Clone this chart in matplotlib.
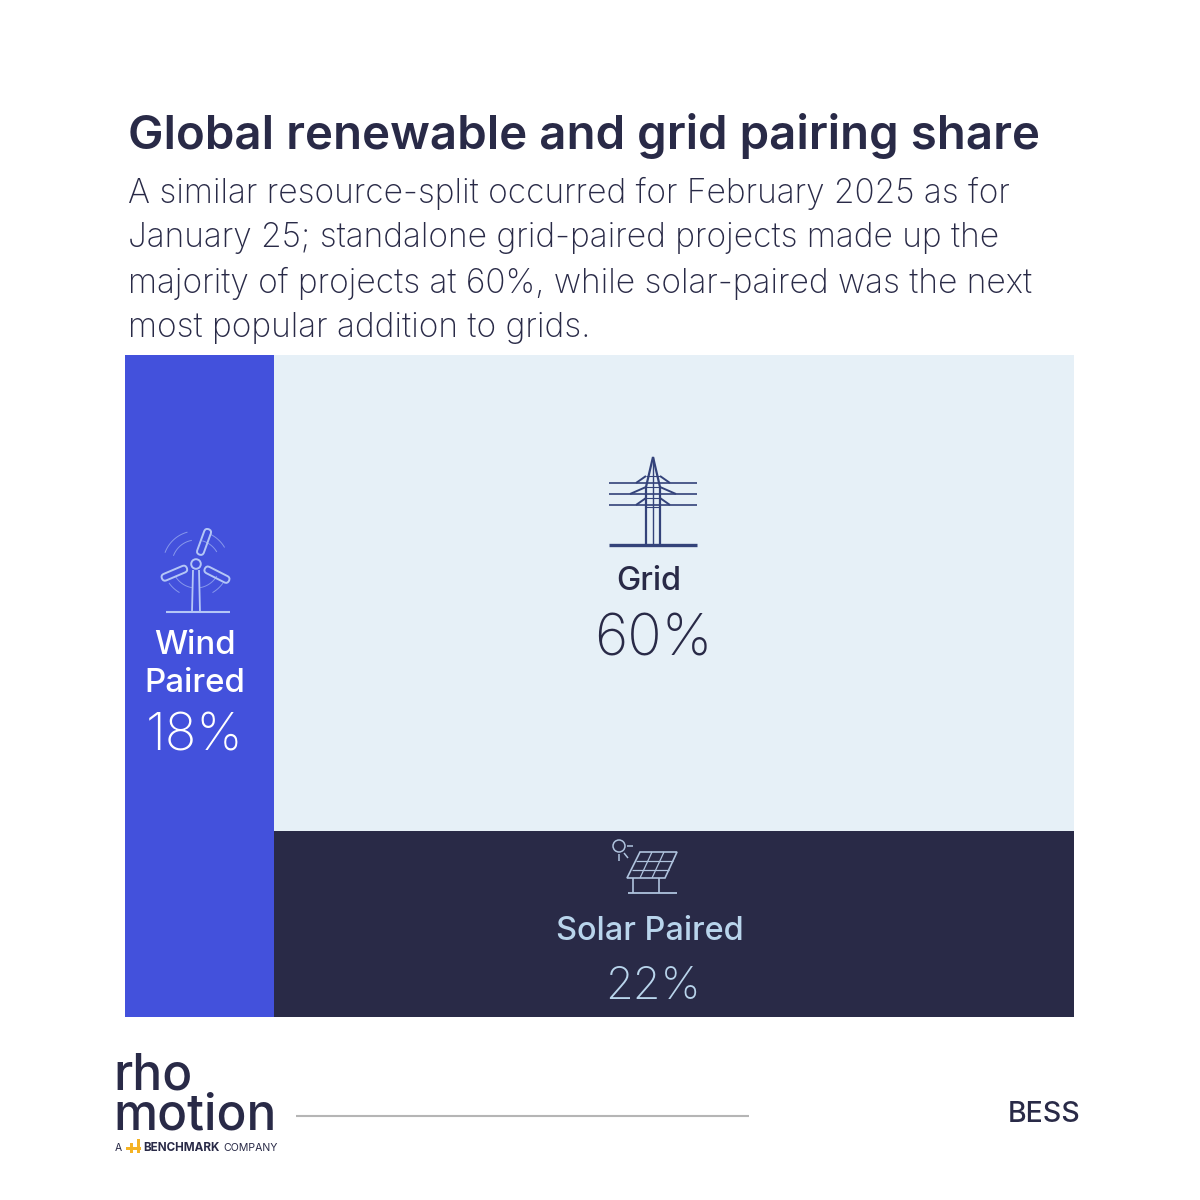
import numpy as np
import matplotlib
matplotlib.use("Agg")
import matplotlib.pyplot as plt
from matplotlib.patches import Rectangle, Circle, FancyBboxPatch, Polygon
from matplotlib.transforms import Affine2D

plt.rcParams['font.family'] = ['Inter', 'DejaVu Sans']

# text
title = "Global renewable and grid pairing share"
subtitle = [
    "A similar resource-split occurred for February 2025 as for",
    "January 25; standalone grid-paired projects made up the",
    "majority of projects at 60%, while solar-paired was the next",
    "most popular addition to grids.",
]

# data: labelled shares, and the shares as the blocks are really drawn
labels = ["Wind\nPaired", "Grid", "Solar Paired"]
shares = [18, 60, 22]
drawn_shares = [15.7, 60.6, 23.7]

# colours
navy = "#292A47"
blue = "#4351DC"
pale = "#E6F0F7"
light_blue = "#B9D5EC"
icon_blue = "#B4C6F6"
icon_navy = "#34437A"
orange = "#F5B324"

fig = plt.figure(figsize=(12, 12), dpi=100, facecolor="white")

# chart area, axes run 0-100 both ways
ax = fig.add_axes([125 / 1200, 1 - 1017 / 1200, 949 / 1200, 662 / 1200])
ax.set_xlim(0, 100)
ax.set_ylim(0, 100)
ax.axis("off")

wind_w = drawn_shares[0]
solar_h = drawn_shares[2] / (drawn_shares[1] + drawn_shares[2]) * 100
ax.add_patch(Rectangle((0, 0), wind_w, 100, color=blue, lw=0))
ax.add_patch(Rectangle((wind_w, solar_h), 100 - wind_w, 100 - solar_h, color=pale, lw=0))
ax.add_patch(Rectangle((wind_w, 0), 100 - wind_w, solar_h, color=navy, lw=0))

# overlay in pixels for text, icons and footer
ov = fig.add_axes([0, 0, 1, 1])
ov.set_xlim(0, 1200)
ov.set_ylim(1200, 0)
ov.axis("off")
ov.patch.set_alpha(0)

ov.text(128, 136, title, fontsize=34.15, fontweight="semibold", color=navy, va="center", ha="left")
for i, txt in enumerate(subtitle):
    ov.text(128, 193 + i * 45, txt, fontsize=24.1, fontweight="light", color=navy, va="center", ha="left")

# block labels
ov.text(195, 646, "Wind", fontsize=23.8, fontweight="medium", color="white", ha="center", va="center")
ov.text(195, 683, "Paired", fontsize=23.8, fontweight="medium", color="white", ha="center", va="center")
ov.text(195, 737, f"{shares[0]}%", fontsize=37.5, fontweight="light", color="white", ha="center", va="center")

ov.text(649, 581, labels[1], fontsize=23.4, fontweight="medium", color=navy, ha="center", va="center")
ov.text(653, 641, f"{shares[1]}%", fontsize=41, fontweight="light", color=navy, ha="center", va="center")

ov.text(650, 931, labels[2], fontsize=23.4, fontweight="medium", color=light_blue, ha="center", va="center")
ov.text(653, 987, f"{shares[2]}%", fontsize=32.5, fontweight="light", color=light_blue, ha="center", va="center")


def line(xs, ys, color, lw=1.3, alpha=1.0):
    ov.plot(xs, ys, color=color, lw=lw, alpha=alpha, solid_capstyle="butt", solid_joinstyle="miter")


# wind turbine icon
c = icon_blue
cx, cy = 196, 564
line([166, 230], [612, 612], c, 1.5)
line([193, 192, 200, 199], [570, 612, 612, 570], c, 1.3)
ov.add_patch(Circle((cx, cy), 4.8, fill=False, ec=c, lw=1.4))
for ang in [-70, 157, 27]:
    blade = FancyBboxPatch((10, -3.5), 27, 7, boxstyle="round,pad=0,rounding_size=3.5",
                           fill=False, ec=c, lw=1.4,
                           transform=Affine2D().rotate_deg(ang).translate(cx, cy) + ov.transData)
    ov.add_patch(blade)
for r, spans in [(24, [(200, 260), (285, 330), (30, 80), (100, 150)]), (33, [(200, 255), (295, 330), (35, 60), (120, 145)])]:
    for a0, a1 in spans:
        t = np.radians(np.linspace(a0, a1, 20))
        line(cx + r * np.cos(t), cy + r * np.sin(t), c, 0.7, 0.6)

# pylon icon
c = icon_navy
line([609, 697], [544.5, 544.5], c, 2.4)
for y in [483, 494, 505]:
    line([609, 697], [y, y], c, 1.2)
line([646, 646, 653, 660, 660], [544, 487, 457, 487, 544], c, 1.6)
line([653, 653], [457, 544], c, 1.0)
line([636, 646], [483, 476], c, 1.4)
line([660, 670], [476, 483], c, 1.4)
line([630, 646], [494, 487], c, 1.4)
line([660, 676], [487, 494], c, 1.4)
line([636, 646], [505, 498], c, 1.4)
line([660, 670], [498, 505], c, 1.4)
for y in [476, 487, 498, 507]:
    line([646, 660], [y, y], c, 0.8)

# solar panel icon
c = "#AFC3DE"
ov.add_patch(Polygon([[640, 852], [677, 852], [665, 878], [627, 878]], closed=True, fill=False, ec=c, lw=1.2))
line([636, 673], [860.5, 860.5], c, 0.9)
line([632, 669], [869.5, 869.5], c, 0.9)
line([652, 640], [852, 878], c, 0.9)
line([664, 652], [852, 878], c, 0.9)
line([633, 633], [878, 893], c, 1.2)
line([659, 659], [878, 893], c, 1.2)
line([628, 677], [893, 893], c, 1.3)
ov.add_patch(Circle((619, 846), 6, fill=False, ec=c, lw=1.1))
line([627, 633], [846, 846], c, 1.1)
line([618.5, 618.5], [854, 861], c, 1.1)
line([624, 628], [853, 858], c, 1.1)

# footer
ov.text(113, 1129, "rho\nmotion", fontsize=35.7, fontweight="medium", color=navy, ha="left", va="baseline", linespacing=0.8)
ov.text(115, 1148, "A", fontsize=7.5, color=navy, ha="left", va="center")
ov.text(143, 1148, "BENCHMARK", fontsize=8.4, fontweight="bold", color=navy, ha="left", va="center")
ov.text(223, 1148, "COMPANY", fontsize=7.6, color=navy, ha="left", va="center")
ov.add_patch(Rectangle((126, 1147), 15, 3, color=orange, lw=0))
ov.add_patch(Rectangle((130, 1143), 3, 10, color=orange, lw=0))
ov.add_patch(Rectangle((137, 1139), 3, 14, color=orange, lw=0))
line([296, 749], [1116, 1116], "#B5B5B5", 1.5)
ov.text(1080, 1115, "BESS", fontsize=20.5, fontweight="medium", color=navy, ha="right", va="center")

fig.savefig("out.png", dpi=100)
